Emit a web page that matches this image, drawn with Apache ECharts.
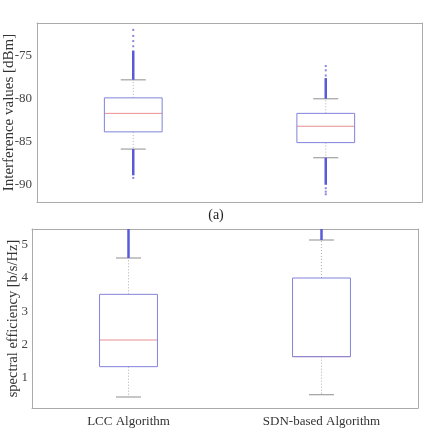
<!DOCTYPE html>
<html>
<head>
<meta charset="utf-8">
<script src="https://cdn.jsdelivr.net/npm/echarts@6/dist/echarts.min.js"></script>
<style>
  html,body{margin:0;padding:0;background:#fff;}
  #chart{width:432px;height:436px;}
</style>
</head>
<body>
<div id="chart"></div>
<script>
// 类别
var categories=["LCC Algorithm","SDN-based Algorithm"];
// (a) 干扰值 [min, q1, median, q3, max]
var interfBox=[
  [-85.85,-83.85,-81.7,-79.9,-77.8],
  [-86.85,-85.1,-83.2,-81.7,-80.0]
];
// (a) 密集离群段 [类别, 下, 上]
var interfBands=[
  [0,-77.8,-74.4],[0,-88.9,-85.85],
  [1,-80.0,-77.6],[1,-90.0,-86.85]
];
// (a) 稀疏离群点 [类别, 值]
var interfOutliers=[
  [0,-72.0],[0,-72.7],[0,-73.3],[0,-73.9],[0,-89.2],
  [1,-76.2],[1,-76.7],[1,-77.3],[1,-90.4],[1,-90.8],[1,-91.1]
];
var interfTicks=[-90,-85,-80,-75];

// (b) 频谱效率 [min, q1, median, q3, max]
var seBox=[
  [0.43,1.34,2.14,3.51,4.6],
  [0.5,1.64,1.64,4.0,5.14]
];
var seBands=[
  [0,4.6,5.47],[1,5.14,5.47]
];
var seTicks=[1,2,3,4,5];

var serif='"Liberation Serif","DejaVu Serif",serif';

// 画箱线
function boxRender(params,api){
  var x=api.value(0);
  var lo=api.coord([x,api.value(1)]);
  var q1=api.coord([x,api.value(2)]);
  var md=api.coord([x,api.value(3)]);
  var q3=api.coord([x,api.value(4)]);
  var hi=api.coord([x,api.value(5)]);
  var w=api.size([1,0])[0]*0.3;
  var cw=25;
  var cx=q1[0];
  var grey={stroke:'#b0b0b0',lineWidth:1,lineDash:[1,2]};
  return {type:'group',children:[
    {type:'line',shape:{x1:cx,y1:q3[1],x2:cx,y2:hi[1]},style:grey},
    {type:'line',shape:{x1:cx,y1:q1[1],x2:cx,y2:lo[1]},style:grey},
    {type:'line',shape:{x1:cx-cw/2,y1:hi[1],x2:cx+cw/2,y2:hi[1]},style:{stroke:'#a8a8a8',lineWidth:1.3}},
    {type:'line',shape:{x1:cx-cw/2,y1:lo[1],x2:cx+cw/2,y2:lo[1]},style:{stroke:'#a8a8a8',lineWidth:1.3}},
    {type:'line',shape:{x1:cx-w/2,y1:md[1],x2:cx+w/2,y2:md[1]},style:{stroke:'#e89090',lineWidth:1}},
    {type:'rect',shape:{x:cx-w/2,y:q3[1],width:w,height:q1[1]-q3[1]},style:{fill:'none',stroke:'#8282dc',lineWidth:1}}
  ]};
}
// 画密集离群段
function bandRender(params,api){
  var a=api.coord([api.value(0),api.value(1)]);
  var b=api.coord([api.value(0),api.value(2)]);
  return {type:'line',shape:{x1:a[0],y1:a[1],x2:b[0],y2:b[1]},style:{stroke:'#5a5ad8',lineWidth:2.5}};
}

function boxData(arr){
  return arr.map(function(d,i){return [i].concat(d);});
}

var chart=echarts.init(document.getElementById('chart'));
var axisGrey='#aaaaaa';
function yAxisCfg(grid,min,max,ticks,name,gap,nameSize,labelMargin){
  return {
    type:'value',gridIndex:grid,min:min,max:max,name:name,nameLocation:'middle',nameGap:gap,
    nameMoveOverlap:false,
    nameTextStyle:{fontFamily:serif,fontSize:nameSize,color:'#333'},
    splitLine:{show:false},
    axisLine:{show:true,lineStyle:{color:axisGrey}},
    axisTick:{inside:true,length:4,customValues:ticks,lineStyle:{color:axisGrey}},
    axisLabel:{customValues:ticks,fontFamily:serif,fontSize:13,color:'#444',margin:labelMargin}
  };
}
function yRightCfg(grid,min,max,ticks){
  return {
    type:'value',gridIndex:grid,min:min,max:max,position:'right',
    splitLine:{show:false},
    axisLine:{show:true,lineStyle:{color:axisGrey}},
    axisTick:{inside:true,length:4,customValues:ticks,lineStyle:{color:axisGrey}},
    axisLabel:{show:false}
  };
}
function xCfg(grid,showLabel,pos){
  return {
    type:'category',gridIndex:grid,data:categories,position:pos,
    axisLine:{show:true,onZero:false,lineStyle:{color:axisGrey}},
    axisTick:{inside:true,alignWithLabel:true,length:4,lineStyle:{color:axisGrey}},
    axisLabel:{show:showLabel,fontFamily:serif,fontSize:13,color:'#333',margin:7},
    splitLine:{show:false}
  };
}

chart.setOption({
  animation:false,
  backgroundColor:'#fff',
  grid:[
    {left:37,right:10,top:23,height:179,outerBoundsMode:'none'},
    {left:32,right:14,top:229,height:179,outerBoundsMode:'none'}
  ],
  xAxis:[
    xCfg(0,false,'bottom'),
    xCfg(0,false,'top'),
    xCfg(1,true,'bottom'),
    xCfg(1,false,'top')
  ],
  yAxis:[
    yAxisCfg(0,-92,-71.2,interfTicks,'Interference values [dBm]',20,15,5),
    yRightCfg(0,-92,-71.2,interfTicks),
    yAxisCfg(1,0.1,5.47,seTicks,'spectral efficiency [b/s/Hz]',11,14.5,4),
    yRightCfg(1,0.1,5.47,seTicks)
  ],
  graphic:[
    {type:'text',left:'center',top:208,style:{text:'(a)',fontFamily:serif,fontSize:14,fill:'#222'}}
  ],
  series:[
    {type:'custom',xAxisIndex:0,yAxisIndex:0,renderItem:boxRender,data:boxData(interfBox),encode:{x:0,y:[1,2,3,4,5]}},
    {type:'custom',xAxisIndex:0,yAxisIndex:0,renderItem:bandRender,data:interfBands,encode:{x:0,y:[1,2]}},
    {type:'scatter',xAxisIndex:0,yAxisIndex:0,symbol:'rect',symbolSize:[2,2],itemStyle:{color:'#6a6ad8'},data:interfOutliers},
    {type:'custom',xAxisIndex:2,yAxisIndex:2,renderItem:boxRender,data:boxData(seBox),encode:{x:0,y:[1,2,3,4,5]}},
    {type:'custom',xAxisIndex:2,yAxisIndex:2,renderItem:bandRender,data:seBands,encode:{x:0,y:[1,2]}}
  ]
});
</script>
</body>
</html>
